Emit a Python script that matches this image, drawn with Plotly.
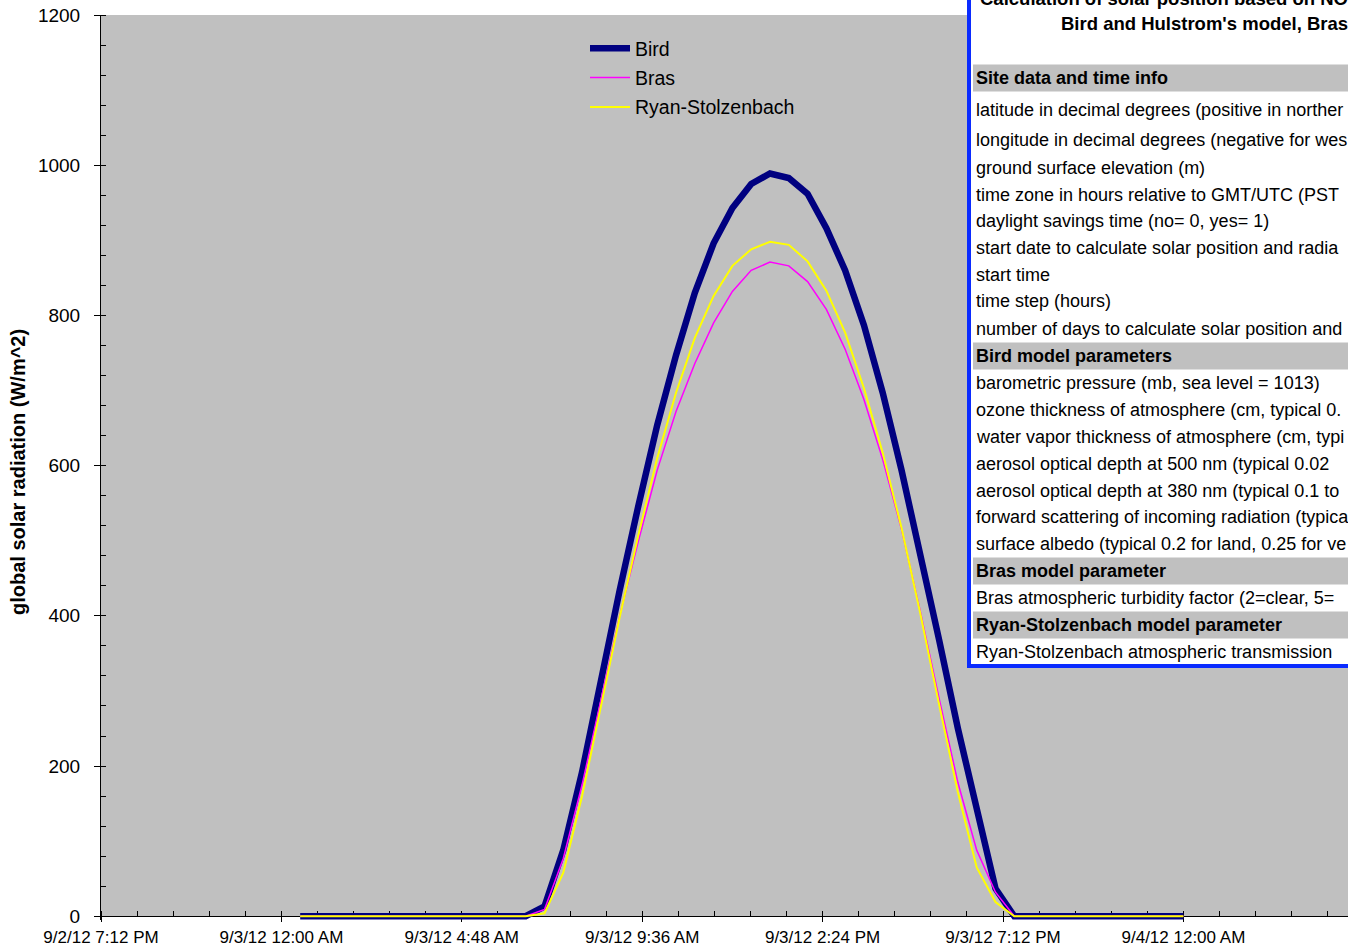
import pandas as pd
import plotly.graph_objects as go

# Half-hourly clear-sky global radiation (W/m^2), 3 Sep 2012 00:30 .. 4 Sep 2012 00:00
times = pd.date_range("2012-09-03 00:30", "2012-09-04 00:00", freq="30min")

bird = [0, 0, 0, 0, 0, 0, 0, 0, 0, 0, 0, 0,
        0, 13, 88, 192, 314, 434, 547, 654, 747, 830, 896, 943, 975, 989,
        983, 962, 916, 860, 787, 697, 594, 484, 368, 250, 139, 37, 0,
        0, 0, 0, 0, 0, 0, 0, 0, 0]
bras = [0, 0, 0, 0, 0, 0, 0, 0, 0, 0, 0, 0,
        0, 9, 77, 175, 288, 400, 500, 594, 672, 736, 790, 832, 860, 871,
        866, 845, 808, 755, 688, 608, 515, 406, 290, 178, 88, 32, 0,
        0, 0, 0, 0, 0, 0, 0, 0, 0]
ryan = [0, 0, 0, 0, 0, 0, 0, 0, 0, 0, 0, 0,
        0, 4, 58, 160, 278, 398, 508, 610, 697, 770, 826, 866, 888, 898,
        894, 872, 833, 777, 703, 617, 517, 403, 282, 165, 65, 19, 0,
        0, 0, 0, 0, 0, 0, 0, 0, 0]

series_names = ["Bird", "Bras", "Ryan-Stolzenbach"]
series_colors = ["#000080", "#FF00FF", "#FFFF00"]
series_widths = [6.5, 1.5, 2]

title_lines = ["Calculation of solar position based on NO",
               "Bird and Hulstrom's model, Bras"]

# (text, is_section_header) rows of the parameter panel, as far as the panel shows them
panel_rows = [
    ("Site data and time info", True),
    ("latitude in decimal degrees (positive in norther", False),
    ("longitude in decimal degrees (negative for wes", False),
    ("ground surface elevation (m)", False),
    ("time zone in hours relative to GMT/UTC (PST", False),
    ("daylight savings time (no= 0, yes= 1)", False),
    ("start date to calculate solar position and radia", False),
    ("start time", False),
    ("time step (hours)", False),
    ("number of days to calculate solar position and", False),
    ("Bird model parameters", True),
    ("barometric pressure (mb, sea level = 1013)", False),
    ("ozone thickness of atmosphere (cm, typical 0.", False),
    ("water vapor thickness of atmosphere (cm, typi", False),
    ("aerosol optical depth at 500 nm (typical 0.02", False),
    ("aerosol optical depth at 380 nm (typical 0.1 to", False),
    ("forward scattering of incoming radiation (typica", False),
    ("surface albedo (typical 0.2 for land, 0.25 for ve", False),
    ("Bras model parameter", True),
    ("Bras atmospheric turbidity factor (2=clear, 5=", False),
    ("Ryan-Stolzenbach model parameter", True),
    ("Ryan-Stolzenbach atmospheric transmission", False),
]
panel_row_y = [78, 110, 140, 168, 195, 221, 248, 275, 301, 329, 356,
               383, 410, 437, 464, 491, 517, 544, 571, 598, 625, 652]

# ---- page geometry (pixels) ----
W, H = 1348, 948
ML, MR, MT, MB = 101, 0, 15, 28
PW, PH = W - ML - MR, H - MT - MB
Y_MIN, Y_MAX = -5, 1200


def px_x(x):
    return (x - ML) / PW


def px_y(y):
    return (H - MB - y) / PH


FONT = "Liberation Sans, Arial, sans-serif"
x_start = pd.Timestamp("2012-09-02 19:12")
major_ms = 4.8 * 3600 * 1000
minor_ms = 0.96 * 3600 * 1000
px_per_major = 180.4
x_end = x_start + pd.Timedelta(milliseconds=PW / px_per_major * major_ms)
x_range = [x_start, x_end]
axis_pos = (0 - Y_MIN) / (Y_MAX - Y_MIN)

fig = go.Figure()
for name, vals, col, w in zip(series_names, [bird, bras, ryan], series_colors, series_widths):
    fig.add_trace(go.Scatter(x=times, y=vals, name=name, mode="lines",
                             legendgroup=name,
                             line=dict(color=col, width=w)))

shapes = [
    # grey chart area from 0 up to the top of the value axis
    dict(type="rect", xref="paper", yref="y", x0=0, x1=1, y0=0, y1=Y_MAX,
         fillcolor="#C0C0C0", line=dict(width=0), layer="below"),
    # parameter panel
    dict(type="rect", xref="paper", yref="paper", x0=px_x(969), x1=px_x(1420),
         y0=px_y(666), y1=px_y(-40), fillcolor="white",
         line=dict(color="#0A2BFF", width=4), layer="above"),
]
annotations = [
    dict(text="<b>global solar radiation (W/m^2)</b>", textangle=-90,
         xref="paper", yref="paper", x=px_x(18), y=px_y(472),
         xanchor="center", yanchor="middle", showarrow=False,
         font=dict(family=FONT, size=20, color="black")),
]
for txt, xl, yc in zip(title_lines, [978, 1059], [-1, 23]):
    annotations.append(dict(text="<b>%s</b>" % txt, xref="paper", yref="paper",
                            x=px_x(xl), y=px_y(yc),
                            xanchor="left", yanchor="middle", showarrow=False,
                            font=dict(family=FONT, size=18.5, color="black")))
for (txt, header), yc in zip(panel_rows, panel_row_y):
    if header:
        shapes.append(dict(type="rect", xref="paper", yref="paper",
                           x0=px_x(973), x1=px_x(1420),
                           y0=px_y(yc + 13.5), y1=px_y(yc - 13.5),
                           fillcolor="#C0C0C0", line=dict(width=0), layer="above"))
    annotations.append(dict(text=("<b>%s</b>" % txt) if header else txt,
                            xref="paper", yref="paper", x=px_x(974), y=px_y(yc),
                            xanchor="left", yanchor="middle", showarrow=False,
                            font=dict(family=FONT, size=18, color="black")))

fig.update_layout(
    width=W, height=H,
    margin=dict(l=ML, r=MR, t=MT, b=MB, pad=0),
    paper_bgcolor="white", plot_bgcolor="white",
    font=dict(family=FONT, color="black"),
    showlegend=True,
    legend=dict(x=px_x(585), y=px_y(29), xanchor="left", yanchor="top",
                bgcolor="rgba(0,0,0,0)", font=dict(family=FONT, size=19.5, color="black"),
                tracegroupgap=1, itemwidth=40),
    xaxis=dict(type="date", range=x_range, anchor="free", position=axis_pos,
               tickmode="linear", tick0=x_start, dtick=major_ms,
               tickformat="%-m/%-d/%y %-I:%M %p",
               ticks="outside", ticklen=5, tickcolor="black", tickwidth=1,
               showline=True, linecolor="black", linewidth=1,
               showgrid=False, zeroline=False, layer="below traces",
               tickfont=dict(family=FONT, size=17, color="black"),
               minor=dict(ticks="inside", ticklen=5, tick0=x_start, dtick=minor_ms,
                          tickcolor="black", showgrid=False)),
    xaxis2=dict(type="date", range=x_range, overlaying="x", anchor="free",
                position=axis_pos, tickmode="linear", tick0=x_start, dtick=major_ms,
                ticks="inside", ticklen=6, tickcolor="black", showticklabels=False,
                showline=False, showgrid=False, zeroline=False, layer="below traces"),
    yaxis=dict(range=[Y_MIN, Y_MAX], tickmode="linear", tick0=0, dtick=200,
               ticks="outside", ticklen=6, tickcolor="black", tickwidth=1,
               ticklabelstandoff=10,
               showline=True, linecolor="black", linewidth=1,
               showgrid=False, zeroline=False, layer="below traces",
               tickfont=dict(family=FONT, size=19, color="black"),
               minor=dict(ticks="inside", ticklen=5, tick0=0, dtick=40,
                          tickcolor="black", showgrid=False)),
    yaxis2=dict(range=[Y_MIN, Y_MAX], overlaying="y", anchor="x",
                tickmode="linear", tick0=0, dtick=200,
                ticks="inside", ticklen=7, tickcolor="black", showticklabels=False,
                showline=False, showgrid=False, zeroline=False, layer="below traces"),
    shapes=shapes,
    annotations=annotations,
)

fig.write_html("out.html")
